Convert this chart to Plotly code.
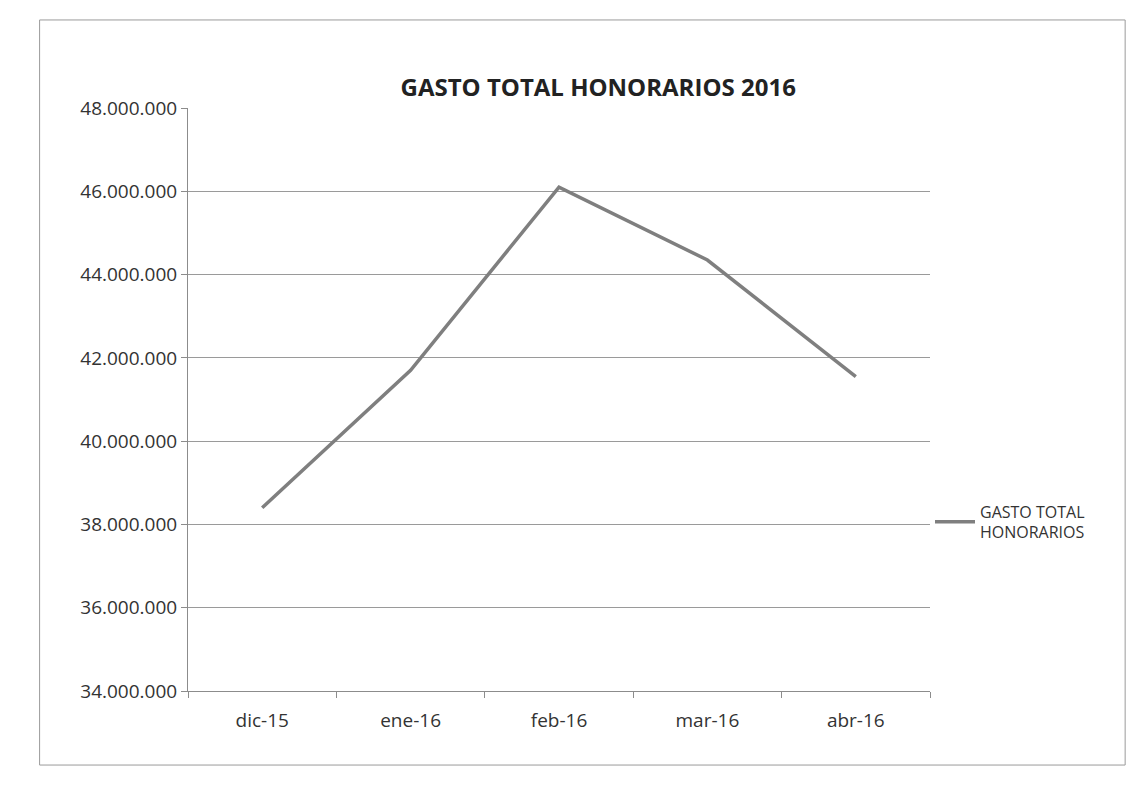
import plotly.graph_objects as go

months = ["dic-15", "ene-16", "feb-16", "mar-16", "abr-16"]
gasto = [38400000, 41700000, 46100000, 44350000, 41550000]
y_ticks = [34000000, 36000000, 38000000, 40000000, 42000000, 44000000, 46000000, 48000000]

fig = go.Figure()
fig.add_trace(go.Scatter(
    x=months, y=gasto, mode="lines",
    name="GASTO TOTAL<br>HONORARIOS",
    line=dict(color="#7f7f7f", width=3.5),
))

font_family = "Open Sans, Liberation Sans, sans-serif"

fig.update_layout(
    width=1146, height=791,
    paper_bgcolor="white", plot_bgcolor="white",
    separators=",.",
    margin=dict(l=180, r=224, t=100, b=108, autoexpand=False),
    title=dict(text="<b>GASTO TOTAL HONORARIOS 2016</b>", x=0.515, xanchor="center",
               y=0.899, yanchor="middle",
               font=dict(family=font_family, size=24, color="#222222")),
    font=dict(family=font_family, size=18, color="#333333"),
    showlegend=True,
    legend=dict(x=1.0, y=0.29, xanchor="left", yanchor="middle",
                font=dict(size=16, color="#333333"), bgcolor="rgba(0,0,0,0)",
                itemwidth=40),
    xaxis=dict(type="category", range=[-0.5, 4.5], showgrid=False, showline=True,
               linecolor="#8c8c8c", linewidth=1, ticks="outside", ticklen=6,
               tickcolor="#8c8c8c", tickson="boundaries", ticklabelstandoff=12,
               tickfont=dict(size=19, color="#333333")),
    yaxis=dict(range=[34000000, 48000000], tickvals=y_ticks, tickformat=",d",
               showgrid=True, gridcolor="#9a9a9a", gridwidth=1,
               showline=True, linecolor="#8c8c8c", linewidth=1,
               ticks="outside", ticklen=6, tickcolor="#8c8c8c",
               tickfont=dict(size=19, color="#333333"), zeroline=False),
    shapes=[dict(type="rect", xref="paper", yref="paper",
                 x0=-0.2, x1=1.263, y0=-0.127, y1=1.151,
                 line=dict(color="#9a9a9a", width=1), fillcolor="rgba(0,0,0,0)")],
)

fig.write_html("out.html")
